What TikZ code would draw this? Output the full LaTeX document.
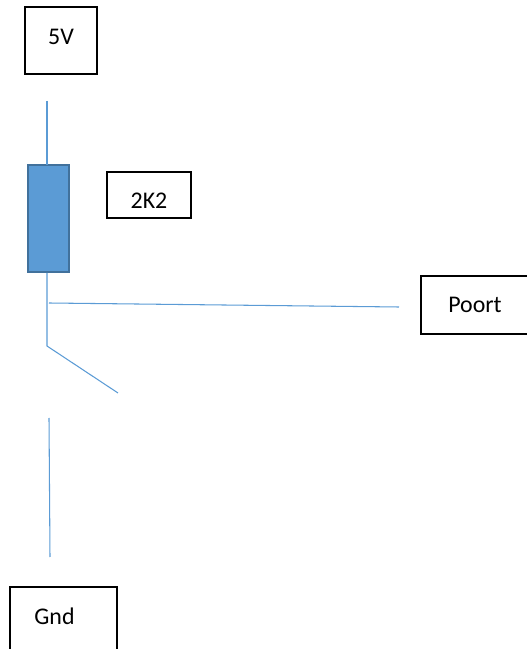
\documentclass[tikz,border=0pt]{standalone}
\usepackage{fontspec}
\setmainfont{Carlito}
\definecolor{wireblue}{HTML}{5B9BD5}
\definecolor{resborder}{HTML}{41719C}
\tikzset{
	boxed/.style={draw=black, line width=0.6pt, inner sep=0pt, font=\fontsize{13.6pt}{16pt}\selectfont},
	wire/.style={draw=wireblue, line width=0.6pt}
}
\begin{document}
\begin{tikzpicture}
	\useasboundingbox (0,0) rectangle (10.54,12.98);
	\node[boxed, minimum width=1.44cm, minimum height=1.34cm, label={[font=\fontsize{13.6pt}{16pt}\selectfont, yshift=0.07cm]center:5V}] (volt) at (1.22,12.17) {};
	\node[boxed, minimum width=1.68cm, minimum height=0.92cm, label={[font=\fontsize{13.6pt}{16pt}\selectfont, yshift=-0.12cm]center:2K2}] (value) at (2.98,9.08) {};
	\node[boxed, minimum width=2.48cm, minimum height=1.16cm, label={[font=\fontsize{13.6pt}{16pt}\selectfont, xshift=-0.16cm]center:Poort}] (poort) at (9.66,6.88) {};
	\node[boxed, minimum width=2.14cm, minimum height=1.56cm, label={[font=\fontsize{13.6pt}{16pt}\selectfont, xshift=-0.18cm, yshift=0.2cm]center:Gnd}] (gnd) at (1.27,0.46) {};
	\node[draw=resborder, fill=wireblue, line width=1.1pt, minimum width=0.82cm, minimum height=2.14cm, inner sep=0pt] (res) at (0.97,8.61) {};
	\coordinate (top) at (0.94,10.96);
	\coordinate (restop) at (0.94,9.68);
	\coordinate (resbot) at (0.94,7.52);
	\coordinate (hinge) at (0.94,6.06);
	\coordinate (swing) at (2.36,5.12);
	\coordinate (tapstart) at (0.98,6.92);
	\coordinate (tapend) at (7.98,6.84);
	\coordinate (contact) at (0.98,4.62);
	\coordinate (gndend) at (1.00,1.84);
	\draw[wire] (top) -- (restop);
	\draw[wire] (resbot) -- (hinge) -- (swing);
	\draw[wire] (tapstart) -- (tapend);
	\draw[wire] (contact) -- (gndend);
\end{tikzpicture}
\end{document}
